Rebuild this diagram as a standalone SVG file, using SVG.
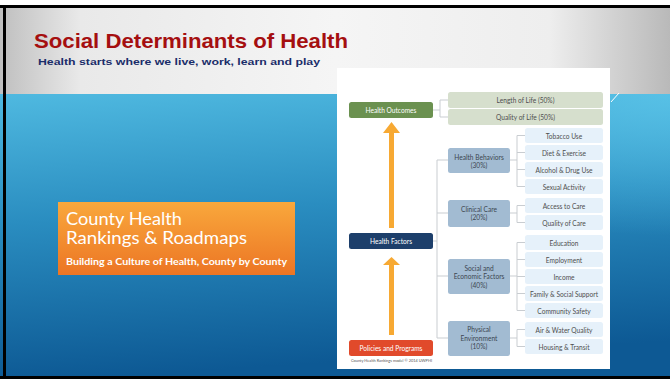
<svg xmlns="http://www.w3.org/2000/svg" width="670" height="380" viewBox="0 0 670 380">
<defs>
<linearGradient id="hdr" x1="0" y1="0" x2="1" y2="0">
<stop offset="0" stop-color="#bfbfbf"/>
<stop offset="0.12" stop-color="#e9e9e9"/>
<stop offset="0.5" stop-color="#f5f5f5"/>
<stop offset="0.82" stop-color="#eeeeee"/>
<stop offset="1" stop-color="#b9b9b9"/>
</linearGradient>
<linearGradient id="blue" x1="0" y1="0" x2="0.15" y2="1">
<stop offset="0" stop-color="#4fb9e0"/>
<stop offset="0.45" stop-color="#2a8dc0"/>
<stop offset="1" stop-color="#0d5994"/>
</linearGradient>
<radialGradient id="glow" cx="1" cy="0" r="0.5">
<stop offset="0" stop-color="#5cc6ea" stop-opacity="0.8"/>
<stop offset="1" stop-color="#5cc6ea" stop-opacity="0"/>
</radialGradient>
<linearGradient id="org" x1="0" y1="0" x2="0" y2="1">
<stop offset="0" stop-color="#f9a83c"/>
<stop offset="1" stop-color="#ec7524"/>
</linearGradient>
<style>
.ln{stroke:#c9cdd1;stroke-width:1;fill:none}
.t{font-family:Lato,"Open Sans","Liberation Sans",sans-serif;font-size:6.6px;text-anchor:middle;dominant-baseline:central}
.w{fill:#ffffff}
.g{fill:#4e4e4e}
.m{fill:#3c4650}
.lb{fill:#e6f1fa}
.lg{fill:#d6dfcd}
.mb{fill:#a2bbd2}
.arr{fill:#f7a933}
</style>
</defs>
<rect x="0" y="0" width="670" height="380" fill="#ffffff"/>
<rect x="0" y="8" width="670" height="87" fill="url(#hdr)"/>
<rect x="0" y="94" width="670" height="283" fill="url(#blue)"/>
<rect x="0" y="94" width="670" height="283" fill="url(#glow)"/>
<rect x="0" y="5" width="670" height="3" fill="#000000"/>
<rect x="3" y="5" width="3" height="373" fill="#000000"/>
<rect x="0" y="376" width="670" height="3" fill="#000000"/>
<line x1="611" y1="102" x2="619" y2="93" stroke="#ffffff" stroke-width="1"/>

<g id="title">
<text x="34" y="48" font-family="'Liberation Sans',Arial,sans-serif" font-weight="bold" font-size="21" fill="#a50f10" textLength="314" lengthAdjust="spacingAndGlyphs">Social Determinants of Health</text>
<text x="38" y="65" font-family="'Liberation Sans',Arial,sans-serif" font-weight="bold" font-size="9.5" fill="#1a2d6a" textLength="282" lengthAdjust="spacingAndGlyphs">Health starts where we live, work, learn and play</text>
</g>

<g id="chr-logo">
<rect x="58" y="202" width="237" height="73" fill="url(#org)"/>
<text x="66" y="225" font-family="Lato,'Open Sans',sans-serif" font-size="16.5" fill="#ffffff" textLength="116" lengthAdjust="spacingAndGlyphs">County Health</text>
<text x="66" y="244" font-family="Lato,'Open Sans',sans-serif" font-size="16.5" fill="#ffffff" textLength="181" lengthAdjust="spacingAndGlyphs">Rankings &amp; Roadmaps</text>
<text x="66" y="265" font-family="Lato,'Open Sans',sans-serif" font-weight="bold" font-size="9.3" fill="#ffffff" textLength="221" lengthAdjust="spacingAndGlyphs">Building a Culture of Health, County by County</text>
</g>

<rect x="337" y="68" width="273" height="301" fill="#ffffff"/>

<g id="connectors">
<path class="ln" d="M433 110H440M440 100V117M440 100H448M440 117H448"/>
<path class="ln" d="M433 241H437M437 160V338M437 160H448M437 213H448M437 276H448M437 338H448"/>
<path class="ln" d="M510 160H517M517 135.5V186.5M517 135.5H525M517 152.5H525M517 169.5H525M517 186.5H525"/>
<path class="ln" d="M510 213H517M517 205.5V222.5M517 205.5H525M517 222.5H525"/>
<path class="ln" d="M510 276H517M517 242.5V310.5M517 242.5H525M517 259.5H525M517 276.5H525M517 293.5H525M517 310.5H525"/>
<path class="ln" d="M510 338H517M517 329.5V346.5M517 329.5H525M517 346.5H525"/>
<path class="arr" d="M389 228V133H383L391.5 122L400 133H394V228Z"/>
<path class="arr" d="M389 335V265H383L391.5 257L400 265H394V335Z"/>
</g>

<g id="health-outcomes"><rect x="349" y="102" width="84" height="16" rx="2.5" fill="#6b9150"/><text class="t w" x="391" y="110">Health Outcomes</text></g>
<g id="health-factors"><rect x="349" y="233" width="84" height="16" rx="2.5" fill="#1d3f6b"/><text class="t w" x="391" y="241">Health Factors</text></g>
<g id="policies"><rect x="349" y="340" width="84" height="16" rx="2.5" fill="#e14a2b"/><text class="t w" x="391" y="348">Policies and Programs</text></g>
<text x="351" y="361.5" font-family="Lato,'Liberation Sans',sans-serif" font-size="3.3" fill="#555555" textLength="81" lengthAdjust="spacingAndGlyphs">County Health Rankings model © 2014 UWPHI</text>

<g id="length-of-life"><rect class="lg" x="448" y="92" width="155" height="16" rx="2.5"/><text class="t g" x="525.5" y="100">Length of Life (50%)</text></g>
<g id="quality-of-life"><rect class="lg" x="448" y="109" width="155" height="16" rx="2.5"/><text class="t g" x="525.5" y="117">Quality of Life (50%)</text></g>

<g id="health-behaviors"><rect class="mb" x="448" y="148" width="62" height="25" rx="2.5"/><text class="t m" x="479" y="156.5">Health Behaviors</text><text class="t m" x="479" y="164.5">(30%)</text></g>
<g id="clinical-care"><rect class="mb" x="448" y="200" width="62" height="27" rx="2.5"/><text class="t m" x="479" y="208.5">Clinical Care</text><text class="t m" x="479" y="217">(20%)</text></g>
<g id="social-economic"><rect class="mb" x="448" y="259" width="62" height="35" rx="2.5"/><text class="t m" x="479" y="267.5">Social and</text><text class="t m" x="479" y="276">Economic Factors</text><text class="t m" x="479" y="284.5">(40%)</text></g>
<g id="physical-environment"><rect class="mb" x="448" y="321" width="62" height="35" rx="2.5"/><text class="t m" x="479" y="329">Physical</text><text class="t m" x="479" y="337.5">Environment</text><text class="t m" x="479" y="346">(10%)</text></g>

<g id="tobacco"><rect class="lb" x="525" y="128" width="78" height="15" rx="2.5"/><text class="t g" x="564" y="135.5">Tobacco Use</text></g>
<g id="diet"><rect class="lb" x="525" y="145" width="78" height="15" rx="2.5"/><text class="t g" x="564" y="152.5">Diet &amp; Exercise</text></g>
<g id="alcohol"><rect class="lb" x="525" y="162" width="78" height="15" rx="2.5"/><text class="t g" x="564" y="169.5">Alcohol &amp; Drug Use</text></g>
<g id="sexual"><rect class="lb" x="525" y="179" width="78" height="15" rx="2.5"/><text class="t g" x="564" y="186.5">Sexual Activity</text></g>
<g id="access"><rect class="lb" x="525" y="198" width="78" height="15" rx="2.5"/><text class="t g" x="564" y="205.5">Access to Care</text></g>
<g id="quality-care"><rect class="lb" x="525" y="215" width="78" height="15" rx="2.5"/><text class="t g" x="564" y="222.5">Quality of Care</text></g>
<g id="education"><rect class="lb" x="525" y="235" width="78" height="15" rx="2.5"/><text class="t g" x="564" y="242.5">Education</text></g>
<g id="employment"><rect class="lb" x="525" y="252" width="78" height="15" rx="2.5"/><text class="t g" x="564" y="259.5">Employment</text></g>
<g id="income"><rect class="lb" x="525" y="269" width="78" height="15" rx="2.5"/><text class="t g" x="564" y="276.5">Income</text></g>
<g id="family"><rect class="lb" x="525" y="286" width="78" height="15" rx="2.5"/><text class="t g" x="564" y="293.5">Family &amp; Social Support</text></g>
<g id="community"><rect class="lb" x="525" y="303" width="78" height="15" rx="2.5"/><text class="t g" x="564" y="310.5">Community Safety</text></g>
<g id="air-water"><rect class="lb" x="525" y="322" width="78" height="15" rx="2.5"/><text class="t g" x="564" y="329.5">Air &amp; Water Quality</text></g>
<g id="housing"><rect class="lb" x="525" y="339" width="78" height="15" rx="2.5"/><text class="t g" x="564" y="346.5">Housing &amp; Transit</text></g>
</svg>
